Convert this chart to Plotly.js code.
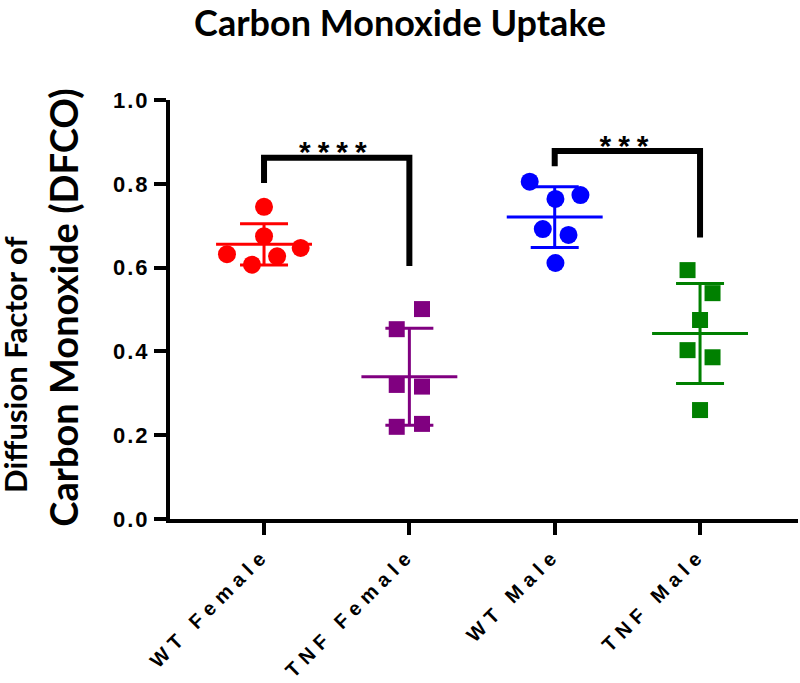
<!DOCTYPE html>
<html>
<head>
<meta charset="utf-8">
<script src="https://cdn.plot.ly/plotly-3.0.1.min.js"></script>
<style>
  body { margin: 0; background: #fff; }
  #chart { width: 800px; height: 683px; }
  .xtick text { letter-spacing: 6px; }
  .ytick text { letter-spacing: 2px; }
  .annotation[data-index="0"] .annotation-text,
  .annotation[data-index="1"] .annotation-text { letter-spacing: 7px; }
</style>
</head>
<body>
<div id="chart"></div>
<script>
// ---- data ----
const categories = ['WT Female', 'TNF Female', 'WT Male', 'TNF Male'];
const wtFemale  = [0.745, 0.675, 0.632, 0.647, 0.607, 0.627];
const tnfFemale = [0.501, 0.453, 0.320, 0.316, 0.220, 0.227];
const wtMale    = [0.805, 0.764, 0.773, 0.692, 0.678, 0.611];
const tnfMale   = [0.594, 0.539, 0.475, 0.403, 0.386, 0.260];
// horizontal scatter spread of each point within its column (category units)
const wtFemaleSpread  = [0, 0, -0.255, 0.252, -0.083, 0.09];
const tnfFemaleSpread = [0.087, -0.087, -0.087, 0.087, -0.087, 0.087];
const wtMaleSpread    = [-0.172, 0.005, 0.177, -0.082, 0.095, 0.005];
const tnfMaleSpread   = [-0.086, 0.086, 0, -0.086, 0.086, 0];
// significance brackets
const bracketFrom     = [0, 2];
const bracketTo       = [1, 3];
const bracketTop      = [0.862, 0.878];
const bracketFromEnd  = [0.802, 0.842];
const bracketToEnd    = [0.604, 0.672];
const bracketLabels   = ['****', '***'];
const yTicks = [0, 0.2, 0.4, 0.6, 0.8, 1.0];
const yTickText = ['0.0', '0.2', '0.4', '0.6', '0.8', '1.0'];
const yTitleLines = ['Diffusion Factor of', 'Carbon Monoxide (DFCO)'];

// ---- styles ----
const groups = [
  {vals: wtFemale,  spread: wtFemaleSpread,  color: 'rgb(255,0,0)',   symbol: 'circle', size: 18},
  {vals: tnfFemale, spread: tnfFemaleSpread, color: 'rgb(128,0,128)', symbol: 'square', size: 16},
  {vals: wtMale,    spread: wtMaleSpread,    color: 'rgb(0,0,255)',   symbol: 'circle', size: 18},
  {vals: tnfMale,   spread: tnfMaleSpread,   color: 'rgb(0,128,0)',   symbol: 'square', size: 16}
];
const meanHalf = 0.33;
const yTitleStyle = [
  {x: -0.247, y: 0.3675, size: 31},
  {x: -0.170, y: 0.505, size: 38}
];

function mean(a) { return a.reduce((s, v) => s + v, 0) / a.length; }
function sd(a) { const m = mean(a); return Math.sqrt(a.reduce((s, v) => s + (v - m) * (v - m), 0) / (a.length - 1)); }

const traces = [];
groups.forEach((g, i) => {
  traces.push({
    type: 'scatter', mode: 'markers',
    x: g.vals.map((v, k) => i + g.spread[k]), y: g.vals,
    marker: {color: g.color, symbol: g.symbol, size: g.size, line: {width: 0}},
    hoverinfo: 'y', showlegend: false
  });
  const m = mean(g.vals), s = sd(g.vals);
  traces.push({
    type: 'scatter', mode: 'lines',
    x: [i - meanHalf, i + meanHalf], y: [m, m],
    line: {color: g.color, width: 3}, hoverinfo: 'skip', showlegend: false
  });
  traces.push({
    type: 'scatter', mode: 'markers',
    x: [i], y: [m],
    marker: {size: 1, color: 'rgba(0,0,0,0)'},
    error_y: {type: 'data', array: [s], visible: true, color: g.color, thickness: 3, width: 24},
    hoverinfo: 'skip', showlegend: false
  });
});

const annotations = [];
bracketFrom.forEach((a, j) => {
  const b = bracketTo[j];
  traces.push({
    type: 'scatter', mode: 'lines',
    x: [a, a, b, b], y: [bracketFromEnd[j], bracketTop[j], bracketTop[j], bracketToEnd[j]],
    line: {color: '#000', width: 6}, hoverinfo: 'skip', showlegend: false
  });
  annotations.push({
    x: (a + b) / 2, y: bracketTop[j], xref: 'x', yref: 'y',
    text: bracketLabels[j], showarrow: false, yanchor: 'middle', yshift: 6, xshift: 0,
    font: {family: 'Arial, "Liberation Sans", sans-serif', size: 30, color: '#000', weight: 'bold'}
  });
});
// y-axis title (two lines)
yTitleLines.forEach((t, k) => {
  const st = yTitleStyle[k];
  annotations.push({
    x: st.x, y: st.y, xref: 'paper', yref: 'paper', xanchor: 'center', yanchor: 'middle',
    text: '<b>' + t + '</b>', textangle: -90, showarrow: false, borderpad: 0,
    font: {family: 'Lato, "Open Sans", sans-serif', size: st.size, color: '#000'}
  });
});

const layout = {
  width: 800, height: 683,
  paper_bgcolor: '#fff', plot_bgcolor: '#fff',
  margin: {l: 170, r: 2, t: 100, b: 164},
  title: {
    text: '<b>Carbon Monoxide Uptake</b>',
    font: {family: 'Lato, "Open Sans", sans-serif', size: 36, color: '#000'},
    x: 0.5, xref: 'container', xanchor: 'center',
    y: 0.966, yref: 'container', yanchor: 'middle'
  },
  xaxis: {
    range: [-0.647, 3.674], showgrid: false, zeroline: false,
    showline: true, linecolor: '#000', linewidth: 4,
    tickmode: 'array', tickvals: [0, 1, 2, 3], ticktext: categories,
    ticks: 'outside', ticklen: 12, tickwidth: 4, tickcolor: '#000',
    tickangle: -45,
    tickfont: {family: 'Arial, "Liberation Sans", sans-serif', size: 20, color: '#000', weight: 'bold'}
  },
  yaxis: {
    range: [0, 1], showgrid: false, zeroline: false,
    showline: true, linecolor: '#000', linewidth: 4,
    tickmode: 'array', tickvals: yTicks, ticktext: yTickText,
    ticks: 'outside', ticklen: 12, tickwidth: 4, tickcolor: '#000',
    tickfont: {family: 'Arial, "Liberation Sans", sans-serif', size: 22, color: '#000', weight: 'bold'}
  },
  annotations: annotations
};

Plotly.newPlot('chart', traces, layout, {displayModeBar: false, staticPlot: true});
</script>
</body>
</html>
